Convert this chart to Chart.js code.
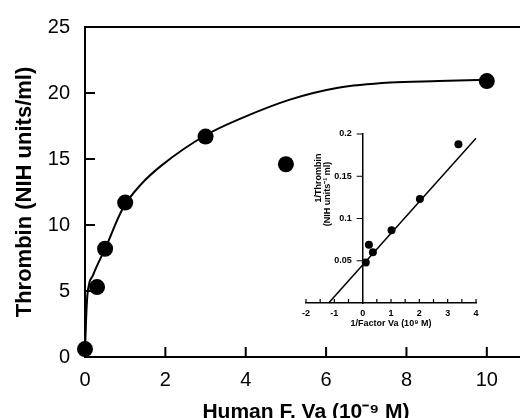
<!DOCTYPE html>
<html>
<head>
<meta charset="utf-8">
<script src="https://cdn.jsdelivr.net/npm/chart.js@4.4.1/dist/chart.umd.min.js"></script>
<style>
    html, body { margin: 0; padding: 0; background: #fff; overflow: hidden; }
    #wrap { position: relative; width: 520px; height: 418px; overflow: hidden; }
    #main { position: absolute; left: 0; top: 0; }
    #inset { position: absolute; left: 280px; top: 120px; }
</style>
</head>
<body>
<div id="wrap">
    <canvas id="main" width="545" height="418"></canvas>
    <canvas id="inset" width="220" height="220"></canvas>
</div>
<script>
// main plot: thrombin vs factor Va
const vaConc = [0, 0.3, 0.5, 1, 3, 5, 10];
const thrombin = [0.6, 5.3, 8.2, 11.7, 16.7, 14.6, 20.9];

// fitted curve
const fitX = [0, 0.025, 0.06, 0.2, 0.5, 0.95, 1.4, 1.9, 3.0, 3.9, 5.1, 6.3, 7.6, 8.8, 10];
const fitY = [0.4, 2.7, 4.7, 6.2, 8.2, 11.3, 13.1, 14.5, 16.8, 18.1, 19.5, 20.4, 20.8, 20.9, 21.0];

const xTicks = [0, 2, 4, 6, 8, 10];
const yTicks = [0, 5, 10, 15, 20, 25];

// inset: double reciprocal plot
const invVa = [0.11, 0.22, 0.36, 1.02, 2.02, 3.38];
const invThrombin = [0.048, 0.069, 0.060, 0.086, 0.123, 0.188];
const lineX = [-1.2, 4.0];
const lineY = [0, 0.195];

const insetXTicks = [-2, -1.5, -1, -0.5, 0, 0.5, 1, 1.5, 2, 2.5, 3, 3.5, 4];
const insetXLabels = ['-2', '', '-1', '', '0', '', '1', '', '2', '', '3', '', '4'];
const insetYTicks = [0.05, 0.1, 0.15, 0.2];
const insetYLabels = ['0.05', '0.1', '0.15', '0.2'];

const FONT = '"Liberation Sans", Arial, Helvetica, sans-serif';
Chart.defaults.color = '#000';
Chart.defaults.font.family = FONT;

const pts = (xs, ys) => xs.map((x, i) => ({ x: x, y: ys[i] }));

// tick marks pointing into the plot + top frame line
const inTicks = {
    id: 'inTicks',
    afterDatasetsDraw(chart, args, opts) {
        const ctx = chart.ctx;
        const a = chart.chartArea;
        const xs = chart.scales.x, ys = chart.scales.y;
        ctx.save();
        ctx.strokeStyle = '#000';
        ctx.lineWidth = opts.width || 2;
        ctx.beginPath();
        if (opts.top) {
            ctx.moveTo(a.left - 1, a.top);
            ctx.lineTo(a.right, a.top);
        }
        if (opts.xLen) {
            xs.ticks.forEach(t => {
                if ((opts.skipX || []).includes(t.value)) return;
                const px = xs.getPixelForValue(t.value);
                ctx.moveTo(px, a.bottom);
                ctx.lineTo(px, a.bottom - opts.xLen);
            });
        }
        if (opts.yLen) {
            ys.ticks.forEach(t => {
                if ((opts.skipY || []).includes(t.value)) return;
                const py = ys.getPixelForValue(t.value);
                ctx.moveTo(a.left, py);
                ctx.lineTo(a.left + opts.yLen, py);
            });
        }
        ctx.stroke();
        ctx.restore();
    }
};

// inset y axis sits at x = 0: its ticks, labels and rotated title
const insetYAxis = {
    id: 'insetYAxis',
    afterDraw(chart) {
        const ctx = chart.ctx;
        const ys = chart.scales.y;
        const x0 = chart.scales.x.getPixelForValue(0);
        const top = chart.chartArea.top;
        ctx.save();
        ctx.strokeStyle = '#000';
        ctx.fillStyle = '#000';
        ctx.lineWidth = 1.2;
        ctx.beginPath();
        insetYTicks.forEach(v => {
            const py = ys.getPixelForValue(v);
            ctx.moveTo(x0, py);
            ctx.lineTo(x0 - 6, py);
        });
        ctx.stroke();
        ctx.font = 'bold 9px ' + FONT;
        ctx.textAlign = 'right';
        ctx.textBaseline = 'middle';
        insetYTicks.forEach((v, i) => {
            ctx.fillText(insetYLabels[i], x0 - 11, ys.getPixelForValue(v));
        });
        ctx.textAlign = 'center';
        [['1/Thrombin', -44.5, 44], ['(NIH units\u207B\u00B9 ml)', -35, 60]].forEach(l => {
            ctx.save();
            ctx.translate(x0 + l[1], top + l[2]);
            ctx.rotate(-Math.PI / 2);
            ctx.fillText(l[0], 0, 0);
            ctx.restore();
        });
        ctx.restore();
    }
};

new Chart(document.getElementById('main'), {
    type: 'scatter',
    data: {
        datasets: [{
            data: pts(vaConc, thrombin),
            pointRadius: 8,
            pointBackgroundColor: '#000',
            pointBorderWidth: 0,
            showLine: false,
            clip: false,
            order: 0
        }, {
            type: 'line',
            data: pts(fitX, fitY),
            borderColor: '#000',
            borderWidth: 2,
            pointRadius: 0,
            cubicInterpolationMode: 'monotone',
            fill: false,
            clip: false,
            order: 1
        }]
    },
    options: {
        responsive: false,
        animation: false,
        events: [],
        layout: { padding: { top: 18, right: 18, left: 0, bottom: 0 } },
        plugins: {
            legend: { display: false },
            tooltip: { enabled: false },
            inTicks: { top: true, width: 2, xLen: 10, yLen: 10, skipX: [0], skipY: [0, 25] }
        },
        scales: {
            x: {
                type: 'linear', min: 0, max: 11,
                afterBuildTicks: s => { s.ticks = xTicks.map(v => ({ value: v })); },
                afterFit: s => { s.height = 61; },
                grid: { display: false, drawTicks: false },
                border: { display: true, color: '#000', width: 2 },
                ticks: { font: { size: 20 }, padding: 11, maxRotation: 0, autoSkip: false },
                title: {
                    display: true, text: 'Human F. Va (10\u207B\u2079 M)',
                    font: { size: 21, weight: 'bold', lineHeight: 1 },
                    padding: { top: 0, bottom: -5 }
                }
            },
            y: {
                type: 'linear', min: 0, max: 25,
                afterBuildTicks: s => { s.ticks = yTicks.map(v => ({ value: v })); },
                afterFit: s => { s.width = 85; },
                grid: { display: false, drawTicks: false },
                border: { display: true, color: '#000', width: 2 },
                ticks: { font: { size: 20 }, padding: 15 },
                title: {
                    display: true, text: 'Thrombin (NIH units/ml)',
                    font: { size: 22, weight: 'bold' },
                    padding: { top: 12, bottom: 0 }
                }
            }
        }
    },
    plugins: [inTicks]
});

new Chart(document.getElementById('inset'), {
    type: 'scatter',
    data: {
        datasets: [{
            data: pts(invVa, invThrombin),
            pointRadius: 4,
            pointBackgroundColor: '#000',
            pointBorderWidth: 0,
            showLine: false,
            clip: false,
            order: 0
        }, {
            type: 'line',
            data: pts(lineX, lineY),
            borderColor: '#000',
            borderWidth: 1.5,
            pointRadius: 0,
            fill: false,
            clip: false,
            order: 1
        }]
    },
    options: {
        responsive: false,
        animation: false,
        events: [],
        layout: { padding: { left: 26, top: 14, right: 24, bottom: 0 } },
        plugins: {
            legend: { display: false },
            tooltip: { enabled: false },
            inTicks: { width: 1.2, xLen: 4, skipX: [0] }
        },
        scales: {
            x: {
                type: 'linear', min: -2, max: 4,
                afterBuildTicks: s => { s.ticks = insetXTicks.map(v => ({ value: v })); },
                afterFit: s => { s.height = 37; },
                grid: { display: false, drawTicks: false },
                border: { display: true, color: '#000', width: 1.5 },
                ticks: {
                    callback: (v, i) => insetXLabels[i],
                    font: { size: 9, weight: 'bold' }, padding: 5, maxRotation: 0, autoSkip: false
                },
                title: {
                    display: true, text: '1/Factor Va (10\u2079 M)',
                    font: { size: 9, weight: 'bold' },
                    padding: { top: 0, bottom: 11 }
                }
            },
            y: {
                type: 'linear', min: 0, max: 0.2,
                position: { x: 0 },
                afterBuildTicks: s => { s.ticks = insetYTicks.map(v => ({ value: v })); },
                grid: { display: false, drawTicks: false },
                border: { display: true, color: '#000', width: 1.5 },
                ticks: { display: false }
            }
        }
    },
    plugins: [inTicks, insetYAxis]
});
</script>
</body>
</html>
